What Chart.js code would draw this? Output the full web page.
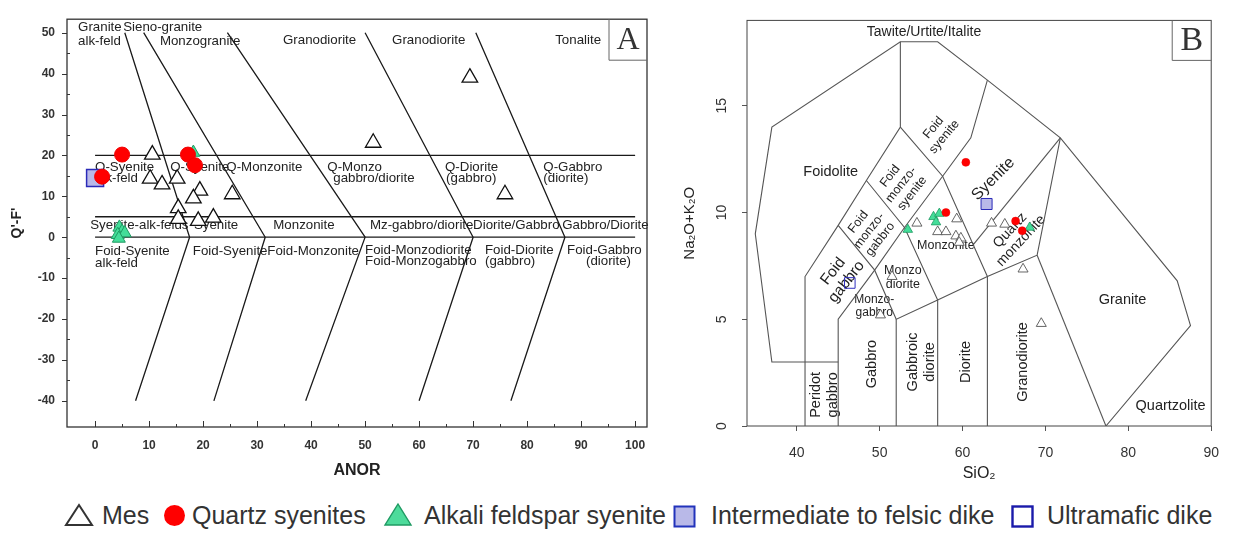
<!DOCTYPE html>
<html>
<head>
<meta charset="utf-8">
<script src="https://cdn.jsdelivr.net/npm/chart.js@4.4.1/dist/chart.umd.min.js"></script>
<style>
  body { margin:0; background:#fff; width:1233px; height:533px; overflow:hidden; position:relative;
         font-family:"Liberation Sans", Arial, sans-serif; }
  #wrapA { position:absolute; left:0; top:0; }
  #wrapB { position:absolute; left:665px; top:0; }
  .lt { position:absolute; top:501px; font-size:25px; line-height:28px; color:#333; white-space:nowrap; }
  .ic { position:absolute; }
</style>
</head>
<body>
<div id="wrapA"><canvas id="chartA" width="665" height="490"></canvas></div>
<div id="wrapB"><canvas id="chartB" width="568" height="490"></canvas></div>

<svg class="ic" style="left:64px;top:503px" width="30" height="24"><polygon points="15,2 28,22 2,22" fill="none" stroke="#333" stroke-width="2"/></svg>
<span class="lt" style="left:102px">Mes</span>
<svg class="ic" style="left:163px;top:504px" width="23" height="23"><circle cx="11.5" cy="11.5" r="10.5" fill="#ff0000"/></svg>
<span class="lt" style="left:192px">Quartz syenites</span>
<svg class="ic" style="left:383px;top:502px" width="30" height="25"><polygon points="15,2 28,23 2,23" fill="#4ddb9b" stroke="#1f9a63" stroke-width="1.4"/></svg>
<span class="lt" style="left:424px">Alkali feldspar syenite</span>
<svg class="ic" style="left:673px;top:505px" width="23" height="23"><rect x="1.5" y="1.5" width="20" height="20" fill="#b9b9e8" stroke="#2233bb" stroke-width="2"/></svg>
<span class="lt" style="left:711px">Intermediate to felsic dike</span>
<svg class="ic" style="left:1011px;top:505px" width="23" height="23"><rect x="1.5" y="1.5" width="20" height="20" fill="none" stroke="#1a1aaa" stroke-width="2.4"/></svg>
<span class="lt" style="left:1047px">Ultramafic dike</span>

<script>
Chart.defaults.font.family = '"Liberation Sans", Arial, sans-serif';

// ---- panel A : Q'-F' vs ANOR ----
const anorTicks = [0, 10, 20, 30, 40, 50, 60, 70, 80, 90, 100];
const qfTicks = [-40, -30, -20, -10, 0, 10, 20, 30, 40, 50];

const mesA = [[10.6,20.2],[10.2,14.3],[12.4,12.9],[15.2,14.3],[19.4,11.4],[18.2,9.5],[25.4,10.5],
              [15.4,7.1],[15.4,4.5],[19.1,4.0],[21.9,4.8],[69.4,39.0],[51.5,23.1],[75.9,10.5]];
const qsA = [[5.0,20.2],[17.2,20.2],[18.5,17.6],[1.3,14.8]];
const afsA = [[18.2,20.7],[4.5,2.4],[5.0,1.4],[4.2,0.6],[5.5,1.0],[4.4,-0.3]];
const ifdA = [[0,14.5]];

const boundsA = [
  [[0,20],[100,20]], [[0,5],[100,5]], [[0,0],[100,0]],
  [[5.5,50],[17.5,0],[7.5,-40]],
  [[9,50],[31.5,0],[22,-40]],
  [[24.5,50],[50,0],[39,-40]],
  [[50,50],[70,0],[60,-40]],
  [[70.5,50],[87,0],[77,-40]]
];

// ---- panel B : TAS (plutonic) ----
const sioTicks = [40, 50, 60, 70, 80, 90];
const alkTicks = [0, 5, 10, 15];

const mesB = [[54.5,9.5],[59.3,9.7],[57.0,9.1],[58.0,9.1],[59.2,8.9],[59.8,8.8],[59.6,8.6],
              [63.5,9.5],[65.1,9.45],[67.3,7.35],[51.5,7.0],[50.1,5.2],[69.5,4.8]];
const qsB = [[60.4,12.35],[58.0,10.0],[66.4,9.6],[67.2,9.15]];
const afsB = [[53.4,9.2],[56.5,9.8],[56.8,9.55],[57.2,9.95],[68.1,9.3]];
const ifdB = [[62.9,10.4]];
const umdB = [[46.4,6.7]];

const boundsB = [
  [[45,3],[37,3],[35,9],[37,14],[52.5,18],[57,18],[63,16.2],[71.8,13.5],[85.9,6.8],[87.5,4.7],[77.3,0]],
  [[41,0],[41,7],[45,9.4],[48.4,11.5],[52.5,14],[52.5,18]],
  [[45,0],[45,5],[49.4,7.3],[53,9.3],[57.6,11.7],[61,13.5],[63,16.2]],
  [[52,0],[52,5],[57,5.9],[63,7],[69,8],[71.8,13.5]],
  [[57,0],[57,5.9]], [[63,0],[63,7]],
  [[45,9.4],[49.4,7.3],[52,5]],
  [[48.4,11.5],[53,9.3],[57,5.9]],
  [[52.5,14],[57.6,11.7],[63,7]],
  [[61.3,8.5],[71.8,13.5]],
  [[69,8],[77.3,0]]
];

const labelsA = [
  ['Granite',-3.15,51.2],['alk-feld',-3.15,47.9],['Sieno-granite',5.2,51.2],['Monzogranite',12.0,47.9],
  ['Granodiorite',34.8,48.1],['Granodiorite',55.0,48.1],['Tonalite',85.2,48.1],
  ['Q-Syenite',0,17.1],['alk-feld',0,14.3],['Q-Syenite',13.9,17.1],['Q-Monzonite',24.3,17.1],
  ['Q-Monzo',43.0,17.1],['gabbro/diorite',44.1,14.3],['Q-Diorite',64.8,17.1],['(gabbro)',65.0,14.3],
  ['Q-Gabbro',83.0,17.1],['(diorite)',83.0,14.3],
  ['Syenite-alk-felds',-0.9,2.86],['Syenite',18.3,2.86],['Monzonite',33.0,2.86],
  ['Mz-gabbro/diorite',50.9,2.86],['Diorite/Gabbro',70.0,2.86],['Gabbro/Diorite',86.5,2.86],
  ['Foid-Syenite',0,-3.4],['alk-feld',0,-6.3],['Foid-Syenite',18.1,-3.4],['Foid-Monzonite',31.9,-3.4],
  ['Foid-Monzodiorite',50,-3.1],['Foid-Monzogabbro',50,-6.0],['Foid-Diorite',72.2,-3.1],['(gabbro)',72.2,-6.0],
  ['Foid-Gabbro',87.4,-3.1],['(diorite)',90.9,-6.0]
];

// text, x, y, rotation, font size, line height
const labelsB = [
  ['Tawite/Urtite/Italite',55.35,18.43,0,14],
  ['Foidolite',44.1,11.9,0,14.5],
  ['Foid\nsyenite',57.15,13.76,-50,12.5,14],
  ['Foid\nmonzo-\nsyenite',52.6,11.3,-52,12.5,14],
  ['Foid\nmonzo-\ngabbro',48.75,9.15,-52,12.5,14],
  ['Foid\ngabbro',45.2,7.0,-52,15.5,17],
  ['Monzo\ndiorite',52.8,6.95,0,12.5,14],
  ['Monzo-\ngabbro',49.35,5.62,0,12,13],
  ['Monzonite',58.0,8.46,0,12.5],
  ['Syenite',63.7,11.57,-45,16],
  ['Quartz\nmonzonite',66.4,8.92,-47,14,15],
  ['Granite',79.3,5.9,0,14.5],
  ['Quartzolite',85.1,0.96,0,14.5],
  ['Peridot\ngabbro',43.3,1.46,-90,14.5,17],
  ['Gabbro',49.1,2.9,-90,14.5],
  ['Gabbroic\ndiorite',55.1,3.0,-90,14.5,17],
  ['Diorite',60.4,3.0,-90,14.5],
  ['Granodiorite',67.3,3.0,-90,14.5]
];

function pts(arr) { return arr.map(p => ({x: p[0], y: p[1]})); }

function lineSets(list, color, width) {
  return list.map(l => ({
    data: pts(l), showLine: true, borderColor: color, borderWidth: width,
    pointRadius: 0, pointHoverRadius: 0, fill: false, tension: 0
  }));
}

function fixTicks(arr) {
  return s => { s.ticks = arr.map(v => ({value: v})); };
}

// labels under the data, plus frame and panel letter
function overlay(items, letter, opt) {
  return {
    id: 'overlay' + letter,
    beforeDatasetsDraw(chart) {
      const {ctx, chartArea: a, scales: {x, y}} = chart;
      ctx.save();
      ctx.fillStyle = '#222';
      ctx.textBaseline = 'middle';
      items.forEach(it => {
        const rot = opt.rotated ? (it[3] || 0) : 0;
        const size = opt.rotated ? it[4] : 13.3;
        const lh = (opt.rotated && it[5]) || size;
        ctx.save();
        ctx.translate(x.getPixelForValue(it[1]), y.getPixelForValue(it[2]));
        ctx.rotate(rot * Math.PI / 180);
        ctx.font = size + 'px "Liberation Sans", Arial, sans-serif';
        ctx.textAlign = opt.rotated ? 'center' : 'left';
        const lines = it[0].split('\n');
        lines.forEach((t, i) => ctx.fillText(t, 0, (i - (lines.length - 1) / 2) * lh));
        ctx.restore();
      });

      // frame
      ctx.strokeStyle = opt.frame;
      ctx.lineWidth = opt.frameW;
      ctx.strokeRect(a.left, a.top, a.right - a.left, a.bottom - a.top);

      // letter box in the top right corner
      ctx.lineWidth = 1;
      ctx.strokeStyle = '#666';
      ctx.beginPath();
      ctx.moveTo(a.right - opt.box[0], a.top);
      ctx.lineTo(a.right - opt.box[0], a.top + opt.box[1]);
      ctx.lineTo(a.right, a.top + opt.box[1]);
      ctx.stroke();
      ctx.fillStyle = '#333';
      ctx.font = opt.box[2] + 'px "Liberation Serif", "Times New Roman", serif';
      ctx.textAlign = 'center';
      ctx.textBaseline = 'middle';
      ctx.fillText(letter, a.right - opt.box[0] / 2, a.top + opt.box[1] / 2 + 1);

      // inside tick marks for panel A
      if (opt.inTicks) {
        ctx.strokeStyle = '#333';
        ctx.lineWidth = 1;
        ctx.beginPath();
        const xs = anorTicks, ys = qfTicks;
        xs.forEach((v, i) => {
          const p = Math.round(x.getPixelForValue(v)) + 0.5;
          ctx.moveTo(p, a.bottom); ctx.lineTo(p, a.bottom - 6);
          if (i < xs.length - 1) {
            const m = Math.round(x.getPixelForValue((v + xs[i + 1]) / 2)) + 0.5;
            ctx.moveTo(m, a.bottom); ctx.lineTo(m, a.bottom - 3);
          }
        });
        ys.forEach((v, i) => {
          const p = Math.round(y.getPixelForValue(v)) + 0.5;
          ctx.moveTo(a.left - 5, p); ctx.lineTo(a.left, p);
          if (i < ys.length - 1) {
            const m = Math.round(y.getPixelForValue((v + ys[i + 1]) / 2)) + 0.5;
            ctx.moveTo(a.left, m); ctx.lineTo(a.left + 3, m);
          }
        });
        ctx.stroke();
      }
      ctx.restore();
    }
  };
}

new Chart(document.getElementById('chartA'), {
  type: 'scatter',
  data: {
    datasets: [
      {label: 'Quartz syenites', data: pts(qsA), pointStyle: 'circle', pointRadius: 7.5,
       backgroundColor: '#ff0000', borderColor: '#f00000', borderWidth: 1},
      {label: 'Intermediate to felsic dike', data: pts(ifdA), pointStyle: 'rect', pointRadius: 12,
       backgroundColor: '#b9b9e8', borderColor: '#2a2ab8', borderWidth: 1.5},
      {label: 'Alkali feldspar syenite', data: pts(afsA), pointStyle: 'triangle', pointRadius: 7.5,
       backgroundColor: '#44dd99', borderColor: '#1f9a63', borderWidth: 1},
      {label: 'Mes', data: pts(mesA), pointStyle: 'triangle', pointRadius: 9,
       backgroundColor: '#ffffff', borderColor: '#111', borderWidth: 1.3},
      ...lineSets(boundsA, '#1a1a1a', 1.3)
    ]
  },
  options: {
    responsive: false, animation: false,
    layout: {padding: {top: 8, right: 18, left: 0, bottom: 0}},
    plugins: {legend: {display: false}, tooltip: {enabled: false}},
    scales: {
      x: {
        type: 'linear', min: -5.2, max: 102.2,
        afterBuildTicks: fixTicks(anorTicks),
        afterFit: s => { s.height = 63; },
        grid: {display: false, drawTicks: false}, border: {display: false},
        ticks: {padding: 11, color: '#333', font: {size: 12, weight: 'bold'}},
        title: {display: true, text: 'ANOR', color: '#222', font: {size: 16, weight: 'bold'}, padding: {top: 0, bottom: 10}}
      },
      y: {
        type: 'linear', min: -46.4, max: 53.3,
        afterBuildTicks: fixTicks(qfTicks),
        afterFit: s => { s.width = 67; },
        grid: {display: false, drawTicks: false}, border: {display: false},
        ticks: {padding: 12, color: '#333', font: {size: 12, weight: 'bold'}},
        title: {display: true, text: "Q'-F'", color: '#222', font: {size: 14, weight: 'bold'}, padding: {top: 9, bottom: 0}}
      }
    }
  },
  plugins: [overlay(labelsA, 'A', {rotated: false, frame: '#333', frameW: 1.3, box: [38, 41, 32], inTicks: true})]
});

new Chart(document.getElementById('chartB'), {
  type: 'scatter',
  data: {
    datasets: [
      {label: 'Quartz syenites', data: pts(qsB), pointStyle: 'circle', pointRadius: 4,
       backgroundColor: '#ff0000', borderColor: '#f00000', borderWidth: 0.5},
      {label: 'Alkali feldspar syenite', data: pts(afsB), pointStyle: 'triangle', pointRadius: 5.5,
       backgroundColor: '#44dd99', borderColor: '#1f9a63', borderWidth: 0.8},
      {label: 'Intermediate to felsic dike', data: pts(ifdB), pointStyle: 'rect', pointRadius: 7.8,
       backgroundColor: '#b9b9e8', borderColor: '#2a2ab8', borderWidth: 1},
      {label: 'Ultramafic dike', data: pts(umdB), pointStyle: 'rect', pointRadius: 7.5,
       backgroundColor: 'rgba(0,0,0,0)', borderColor: '#3030c0', borderWidth: 1},
      {label: 'Mes', data: pts(mesB), pointStyle: 'triangle', pointRadius: 5.8,
       backgroundColor: '#ffffff', borderColor: '#555', borderWidth: 0.9},
      ...lineSets(boundsB, '#555', 1.1)
    ]
  },
  options: {
    responsive: false, animation: false,
    layout: {padding: {top: 10, right: 19, left: 0, bottom: 0}},
    plugins: {legend: {display: false}, tooltip: {enabled: false}},
    scales: {
      x: {
        type: 'linear', min: 34, max: 90,
        afterBuildTicks: fixTicks(sioTicks),
        afterFit: s => { s.height = 64; },
        grid: {display: true, drawOnChartArea: false, drawTicks: true, tickLength: 5, tickColor: '#555'},
        border: {display: false},
        ticks: {padding: 14, color: '#333', font: {size: 14}},
        title: {display: true, text: 'SiO\u2082', color: '#222', font: {size: 16}, padding: {top: 0, bottom: 7}}
      },
      y: {
        type: 'linear', min: 0, max: 19,
        afterBuildTicks: fixTicks(alkTicks),
        afterFit: s => { s.width = 82; },
        grid: {display: true, drawOnChartArea: false, drawTicks: true, tickLength: 5, tickColor: '#555'},
        border: {display: false},
        ticks: {padding: 12, color: '#333', font: {size: 14}, minRotation: 90, maxRotation: 90, crossAlign: 'center'},
        title: {display: true, text: 'Na\u2082O+K\u2082O', color: '#222', font: {size: 15}, padding: {top: 16, bottom: 0}}
      }
    }
  },
  plugins: [overlay(labelsB, 'B', {rotated: true, frame: '#444', frameW: 1, box: [39, 40, 34], inTicks: false})]
});
</script>
</body>
</html>
